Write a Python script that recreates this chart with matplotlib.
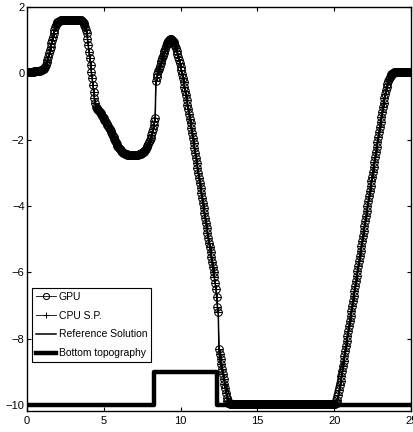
import matplotlib
matplotlib.use("Agg")
import matplotlib.pyplot as plt
import numpy as np

# free surface read off the picture, sampled every 0.05 from 0 to 25
# (one row per unit of x: k.00, k.05, ... k.95)
x = np.round(np.arange(0, 25.001, 0.05), 2)
gpu_y = [
    0.05, 0.05, 0.05, 0.05, 0.05, 0.05, 0.05, 0.05, 0.05, 0.05, 0.06, 0.06, 0.06, 0.06, 0.07, 0.07, 0.08, 0.08, 0.09, 0.1,
    0.11, 0.12, 0.14, 0.16, 0.2, 0.26, 0.33, 0.41, 0.5, 0.6, 0.7, 0.8, 0.9, 1.0, 1.1, 1.21, 1.32, 1.41, 1.47, 1.51,
    1.54, 1.56, 1.58, 1.59, 1.6, 1.61, 1.61, 1.62, 1.62, 1.62, 1.62, 1.62, 1.62, 1.62, 1.62, 1.62, 1.62, 1.62, 1.62, 1.62,
    1.62, 1.62, 1.62, 1.62, 1.62, 1.62, 1.62, 1.62, 1.62, 1.62, 1.61, 1.6, 1.58, 1.55, 1.52, 1.47, 1.4, 1.32, 1.22, 1.05,
    0.85, 0.65, 0.45, 0.25, 0.05, -0.15, -0.35, -0.55, -0.75, -0.9, -1.0, -1.04, -1.07, -1.1, -1.14, -1.17, -1.21, -1.24, -1.28, -1.32,
    -1.36, -1.4, -1.44, -1.48, -1.52, -1.56, -1.6, -1.64, -1.69, -1.73, -1.78, -1.83, -1.88, -1.93, -1.98, -2.03, -2.08, -2.13, -2.18, -2.22,
    -2.26, -2.29, -2.32, -2.35, -2.37, -2.39, -2.4, -2.41, -2.42, -2.43, -2.44, -2.45, -2.45, -2.46, -2.46, -2.46, -2.46, -2.46, -2.46, -2.46,
    -2.46, -2.46, -2.46, -2.46, -2.45, -2.45, -2.44, -2.43, -2.42, -2.41, -2.4, -2.38, -2.36, -2.33, -2.3, -2.27, -2.23, -2.19, -2.14, -2.08,
    -2.02, -1.95, -1.86, -1.77, -1.68, -1.57, -1.45, -1.36, -0.22, -0.12, -0.03, 0.06, 0.14, 0.22, 0.3, 0.38, 0.45, 0.53, 0.6, 0.67,
    0.74, 0.81, 0.87, 0.92, 0.97, 1.01, 1.04, 1.05, 1.04, 1.02, 0.98, 0.94, 0.88, 0.82, 0.75, 0.67, 0.59, 0.5, 0.4, 0.3,
    0.2, 0.09, -0.03, -0.15, -0.27, -0.4, -0.53, -0.66, -0.8, -0.94, -1.08, -1.22, -1.37, -1.51, -1.66, -1.8, -1.95, -2.1, -2.25, -2.4,
    -2.55, -2.7, -2.85, -3.0, -3.15, -3.3, -3.45, -3.6, -3.75, -3.9, -4.05, -4.2, -4.35, -4.5, -4.65, -4.8, -4.95, -5.1, -5.25, -5.4,
    -5.55, -5.7, -5.85, -6.0, -6.15, -6.32, -6.5, -6.75, -7.05, -7.2, -8.3, -8.45, -8.6, -8.75, -8.9, -9.05, -9.2, -9.35, -9.5, -9.65,
    -9.8, -9.88, -9.93, -9.95, -9.96, -9.96, -9.96, -9.96, -9.96, -9.96, -9.96, -9.96, -9.96, -9.96, -9.96, -9.96, -9.96, -9.96, -9.96, -9.96,
    -9.96, -9.96, -9.96, -9.96, -9.96, -9.96, -9.96, -9.96, -9.96, -9.96, -9.96, -9.96, -9.96, -9.96, -9.96, -9.96, -9.96, -9.96, -9.96, -9.96,
    -9.96, -9.96, -9.96, -9.96, -9.96, -9.96, -9.96, -9.96, -9.96, -9.96, -9.96, -9.96, -9.96, -9.96, -9.96, -9.96, -9.96, -9.96, -9.96, -9.96,
    -9.96, -9.96, -9.96, -9.96, -9.96, -9.96, -9.96, -9.96, -9.96, -9.96, -9.96, -9.96, -9.96, -9.96, -9.96, -9.96, -9.96, -9.96, -9.96, -9.96,
    -9.96, -9.96, -9.96, -9.96, -9.96, -9.96, -9.96, -9.96, -9.96, -9.96, -9.96, -9.96, -9.96, -9.96, -9.96, -9.96, -9.96, -9.96, -9.96, -9.96,
    -9.96, -9.96, -9.96, -9.96, -9.96, -9.96, -9.96, -9.96, -9.96, -9.96, -9.96, -9.96, -9.96, -9.96, -9.96, -9.96, -9.96, -9.96, -9.96, -9.96,
    -9.96, -9.96, -9.96, -9.96, -9.96, -9.96, -9.96, -9.96, -9.96, -9.96, -9.96, -9.96, -9.96, -9.96, -9.96, -9.96, -9.96, -9.96, -9.96, -9.96,
    -9.96, -9.96, -9.95, -9.93, -9.86, -9.71, -9.56, -9.41, -9.26, -9.11, -8.96, -8.81, -8.66, -8.51, -8.36, -8.21, -8.06, -7.91, -7.76, -7.61,
    -7.46, -7.31, -7.16, -7.01, -6.86, -6.71, -6.56, -6.41, -6.26, -6.11, -5.96, -5.81, -5.66, -5.51, -5.36, -5.21, -5.06, -4.91, -4.76, -4.61,
    -4.46, -4.31, -4.16, -4.01, -3.86, -3.71, -3.56, -3.41, -3.26, -3.11, -2.96, -2.81, -2.66, -2.51, -2.36, -2.21, -2.06, -1.91, -1.76, -1.61,
    -1.46, -1.31, -1.16, -1.02, -0.88, -0.75, -0.62, -0.51, -0.4, -0.31, -0.23, -0.17, -0.11, -0.07, -0.03, -0.01, 0.01, 0.02, 0.03, 0.035,
    0.04, 0.04, 0.045, 0.05, 0.05, 0.05, 0.05, 0.05, 0.05, 0.05, 0.05, 0.05, 0.05, 0.05, 0.05, 0.05, 0.05, 0.05, 0.05, 0.05,
    0.05,
]
cpu_y = list(gpu_y)

# reference solution differs from the GPU run only near the two wet/dry fronts
ref_diff = {
    12.5: -8.4, 12.55: -8.62, 12.6: -8.8, 12.65: -8.9, 12.7: -9.0,
    12.75: -9.09, 12.8: -9.17, 12.85: -9.25, 12.9: -9.32, 12.95: -9.4,
    13.0: -9.47, 13.05: -9.54, 13.1: -9.6, 13.15: -9.66, 13.2: -9.72,
    13.25: -9.77, 13.3: -9.82, 13.35: -9.86, 13.4: -9.9, 13.45: -9.94,
    19.85: -9.93, 19.9: -9.88, 19.95: -9.79, 20.0: -9.7, 20.05: -9.6,
    20.1: -9.5, 20.15: -9.4, 20.2: -9.3, 20.25: -9.2, 20.3: -9.1,
    20.35: -9.0, 20.4: -8.9, 20.45: -8.82, 20.5: -8.75, 20.55: -8.7,
}
ref_y = [ref_diff.get(float(xx), yy) for xx, yy in zip(x, gpu_y)]

# bottom topography steps
bot_x = [0, 8.3, 12.36, 25]
bot_y = [-10, -9, -10, -10]

plt.rcParams["font.family"] = ["Liberation Sans", "DejaVu Sans"]
plt.rcParams["font.size"] = 8

fig = plt.figure(figsize=(4.14, 4.32), dpi=100)
ax = fig.add_axes([0.0645, 0.0493, 0.929, 0.9345])

ax.plot(x, gpu_y, "-o", color="k", lw=0.6, ms=5.5, mfc="none", mec="k",
        mew=0.75, label="GPU")
ax.plot(x, cpu_y, "-+", color="k", lw=0.6, ms=5.5, mew=0.75, label="CPU S.P.")
ax.plot(x, ref_y, "-", color="k", lw=1.1, label="Reference Solution")
ax.step(bot_x, bot_y, where="post", color="k", lw=3.2, label="Bottom topography")

ax.set_xlim(0, 25)
ax.set_ylim(-10.17, 2)
ax.set_xticks([0, 5, 10, 15, 20, 25])
ax.set_yticks([-10, -8, -6, -4, -2, 0, 2])
ax.tick_params(direction="in", top=True, right=True, length=3, width=0.8)
ax.tick_params(axis="x", pad=4)
ax.tick_params(axis="y", pad=1.5)
for s in ax.spines.values():
    s.set_linewidth(1.0)

leg = ax.legend(loc="lower left", bbox_to_anchor=(0.0138, 0.1196),
                borderaxespad=0, fancybox=False, framealpha=1,
                edgecolor="k", fontsize=7.5, handlelength=1.9,
                handletextpad=0.25, labelspacing=0.85, borderpad=0.4,
                markerscale=0.8)
leg.get_frame().set_linewidth(0.8)

fig.savefig("out.png", dpi=100)
